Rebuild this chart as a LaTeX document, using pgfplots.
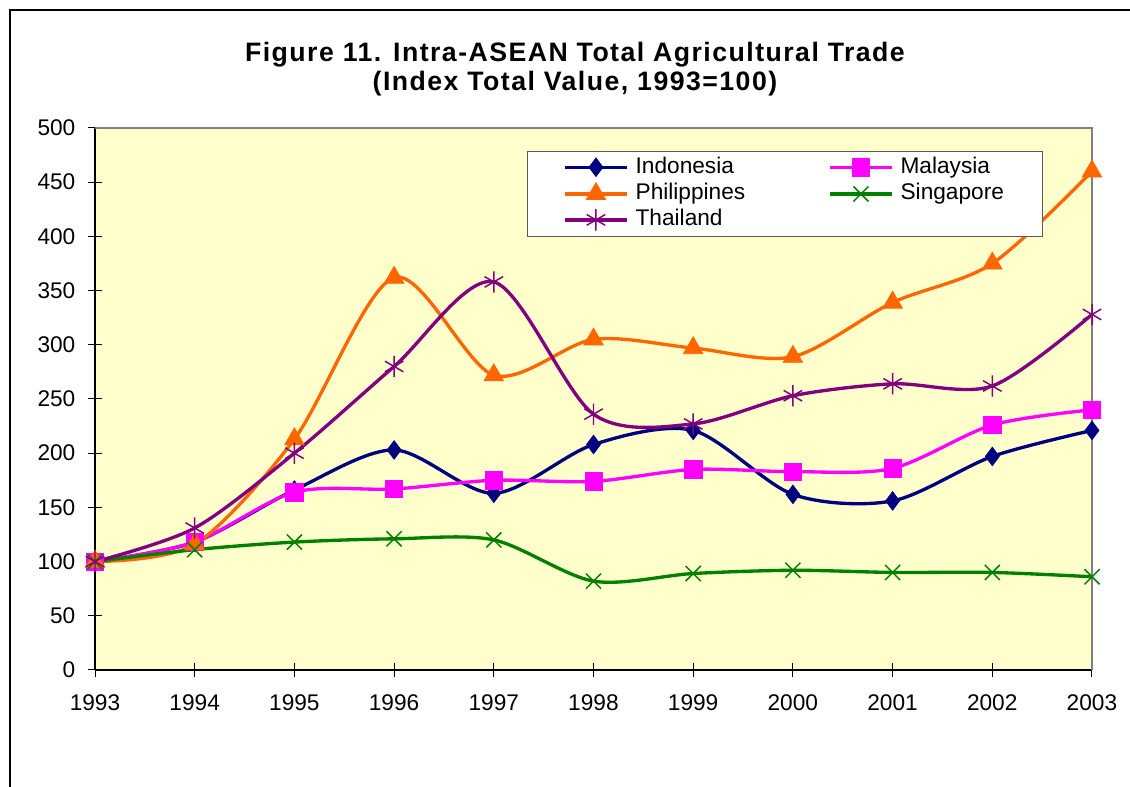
\documentclass[border=0pt]{standalone}
\usepackage{fontspec}
\setmainfont{Liberation Sans}
\newfontfamily\titlefont[LetterSpace=5.5]{Liberation Sans}
\usepackage{pgfplots}
\pgfplotsset{compat=1.18}
\definecolor{bgY}{HTML}{FFFFCC}
\definecolor{cInd}{HTML}{000080}
\definecolor{cMal}{HTML}{FF00FF}
\definecolor{cPhi}{HTML}{FF6600}
\definecolor{cSin}{HTML}{008000}
\definecolor{cTha}{HTML}{800080}
\begin{document}
\begin{tikzpicture}
\begin{axis}[
  scale only axis, width=747.75pt, height=406.5pt,
  xmin=1993, xmax=2003, ymin=0, ymax=500,
  xtick={1993,1994,...,2003}, ytick={0,50,...,500},
  axis lines*=left,
  axis background/.style={fill=bgY},
  tick align=center, major tick length=10.5pt,
  tick style={black, line width=0.75pt},
  axis line style={black, line width=1.3pt},
  /pgf/number format/assume math mode=true,
  /pgf/number format/1000 sep={},
  ticklabel style={font=\fontsize{17}{20}\selectfont},
  xticklabel style={yshift=-10pt},
  yticklabel style={xshift=-6pt},
  clip=false,
  legend columns=2,
  legend cell align=left,
  legend image code/.code={\draw[mark repeat=2,mark phase=2] plot coordinates {(0pt,0pt) (23.5pt,0pt) (47pt,0pt)};},
  legend style={at={(0.433,0.9576)}, anchor=north west, draw=gray!70!black, fill=white,
    font=\fontsize{17}{19}\selectfont, inner xsep=27pt, inner ysep=4pt, row sep=3.5pt,
    nodes={text height=12.5pt, text depth=3.5pt, inner ysep=0pt},
    /tikz/every odd column/.append style={column sep=3pt},
    /tikz/every even column/.append style={column sep=60pt}},
  every axis plot/.append style={line width=2.5pt, smooth},
]
\addplot[cInd, mark=diamond*, mark size=7pt, mark options={solid, line width=0.5pt, fill=cInd}] coordinates {
(1993,100) (1994,118) (1995,166) (1996,203) (1997,163) (1998,208) (1999,221) (2000,162) (2001,156) (2002,197) (2003,221)};
\addlegendentry{Indonesia}
\addplot[cMal, mark=square*, mark size=6.5pt, mark options={solid, line width=0.5pt, fill=cMal}] coordinates {
(1993,100) (1994,118) (1995,164) (1996,167) (1997,175) (1998,174) (1999,185) (2000,183) (2001,186) (2002,226) (2003,240)};
\addlegendentry{Malaysia}
\addplot[cPhi, mark=triangle*, mark size=8.5pt, mark options={solid, line width=0.5pt, fill=cPhi}] coordinates {
(1993,100) (1994,116) (1995,213) (1996,362) (1997,272) (1998,305) (1999,297) (2000,289) (2001,339) (2002,375) (2003,460)};
\addlegendentry{Philippines}
\addplot[cSin, mark=x, mark size=8pt, mark options={solid, line width=1.1pt}] coordinates {
(1993,100) (1994,111) (1995,118) (1996,121) (1997,120) (1998,82) (1999,89) (2000,92) (2001,90) (2002,90) (2003,86)};
\addlegendentry{Singapore}
\addplot[cTha, mark=asterisk, mark size=8pt, mark options={solid, line width=1.1pt}] coordinates {
(1993,100) (1994,131) (1995,200) (1996,280) (1997,358) (1998,236) (1999,227) (2000,253) (2001,264) (2002,262) (2003,328)};
\addlegendentry{Thailand}
\draw[gray, line width=0.8pt] (rel axis cs:0,1) -- (rel axis cs:1,1) -- (rel axis cs:1,0);
\node[align=center, font=\titlefont\fontsize{20}{21.75}\selectfont\bfseries] at (rel axis cs:0.4814,1.108)
  {Figure 11. Intra-ASEAN Total Agricultural Trade\\(Index Total Value, 1993=100)};
\end{axis}
\draw[black, line width=1.6pt] (-63.75pt,-90pt) -- (-63.75pt,495pt) -- (780pt,495pt);
\pgfresetboundingbox
\useasboundingbox (-71.25pt,-87.75pt) rectangle (776.25pt,502.5pt);
\end{tikzpicture}
\end{document}
